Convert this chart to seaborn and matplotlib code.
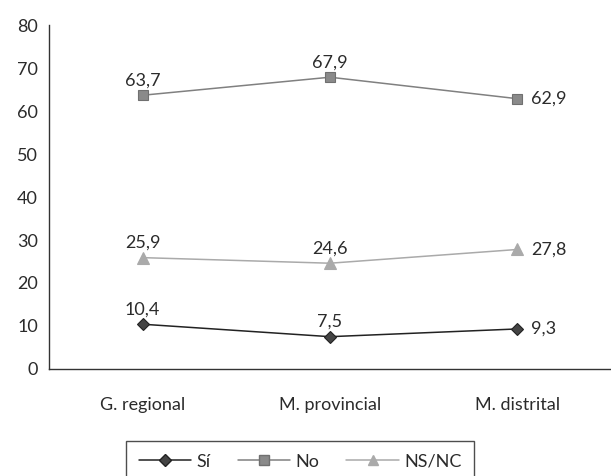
import matplotlib
matplotlib.use("Agg")
import matplotlib.pyplot as plt
import seaborn as sns
import pandas as pd
from matplotlib.lines import Line2D

categories = ["G. regional", "M. provincial", "M. distrital"]
si = [10.4, 7.5, 9.3]
no = [63.7, 67.9, 62.9]
nsnc = [25.9, 24.6, 27.8]
series_names = ["Sí", "No", "NS/NC"]
yticks = [0, 10, 20, 30, 40, 50, 60, 70, 80]

sns.set_theme(style="white")
plt.rcParams['font.family'] = ['Lato', 'DejaVu Sans']
txt = "#2b2b2b"
fs = 13

df = pd.DataFrame({
    "cat": categories * 3,
    "val": si + no + nsnc,
    "serie": [series_names[0]] * 3 + [series_names[1]] * 3 + [series_names[2]] * 3,
})

fig = plt.figure(figsize=(6.11, 4.76), dpi=100)
ax = fig.add_axes([0.080, 0.225, 0.92, 0.722])

styles = {
    "Sí": dict(color="#222222", marker="D", mfc="#444444", mec="#222222", ms=6.5, lw=1.1),
    "No": dict(color="#808080", marker="s", mfc="#8a8a8a", mec="#707070", ms=7, lw=1.1),
    "NS/NC": dict(color="#aaaaaa", marker="^", mfc="#aaaaaa", mec="#aaaaaa", ms=8, lw=1.1),
}

x = list(range(len(categories)))
for name in series_names:
    sub = df[df.serie == name]
    st = styles[name]
    sns.lineplot(x=x, y=sub["val"].values, ax=ax, color=st["color"], lw=st["lw"],
                 legend=False)
    ax.plot(x, sub["val"].values, linestyle="none", marker=st["marker"], ms=st["ms"],
            mfc=st["mfc"], mec=st["mec"], mew=0.8)
    for i, v in enumerate(sub["val"].values):
        label = f"{v:.1f}".replace(".", ",")
        if i == 2:
            ax.annotate(label, (i, v), xytext=(10, 0), textcoords="offset points",
                        ha="left", va="center", fontsize=fs, color=txt)
        else:
            ax.annotate(label, (i, v), xytext=(0, 5), textcoords="offset points",
                        ha="center", va="bottom", fontsize=fs, color=txt)

ax.set_xlim(-0.5, 2.5)
ax.set_ylim(0, 80)
ax.set_yticks(yticks)
ax.set_yticklabels([str(t) for t in yticks], fontsize=fs, color=txt)
ax.set_xticks([-0.5, 0.5, 1.5])
ax.set_xticklabels([])
ax.set_xticks(x, minor=True)
ax.set_xticklabels(categories, minor=True, fontsize=fs, color=txt)
ax.tick_params(axis="x", which="major", direction="out", length=6, width=0.8, color="#333333")
ax.tick_params(axis="x", which="minor", length=0, pad=20)
ax.tick_params(axis="y", direction="out", length=4, width=0.8, color="#333333", pad=4)
ax.set_xlabel("")
ax.set_ylabel("")
for s in ["top", "right"]:
    ax.spines[s].set_visible(False)
for s in ["left", "bottom"]:
    ax.spines[s].set_color("#333333")
    ax.spines[s].set_linewidth(1.0)

handles = []
for name in series_names:
    st = styles[name]
    handles.append(Line2D([], [], color=st["color"], lw=st["lw"], marker=st["marker"],
                          ms=st["ms"] - 0.5, mfc=st["mfc"], mec=st["mec"]))
leg = fig.legend(handles, series_names, loc="upper left", bbox_to_anchor=(126/611, 1 - 441/476),
                 ncol=3, frameon=True, fancybox=False, fontsize=fs, handlelength=2.9,
                 columnspacing=1.5, handletextpad=0.3, borderpad=0.7, borderaxespad=0,
                 edgecolor="#222222")
leg.get_frame().set_linewidth(1.0)
for t in leg.get_texts():
    t.set_color(txt)

fig.savefig("out.png", dpi=100)
